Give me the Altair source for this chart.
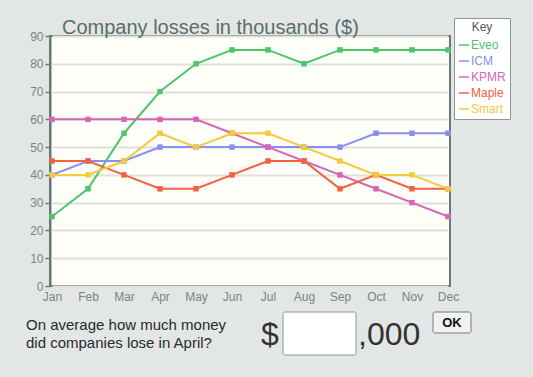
import altair as alt
import pandas as pd

months = ["Jan", "Feb", "Mar", "Apr", "May", "Jun", "Jul", "Aug", "Sep", "Oct", "Nov", "Dec"]
series = ["Eveo", "ICM", "KPMR", "Maple", "Smart"]
eveo = [25, 35, 55, 70, 80, 85, 85, 80, 85, 85, 85, 85]
icm = [40, 45, 45, 50, 50, 50, 50, 50, 50, 55, 55, 55]
kpmr = [60, 60, 60, 60, 60, 55, 50, 45, 40, 35, 30, 25]
maple = [45, 45, 40, 35, 35, 40, 45, 45, 35, 40, 35, 35]
smart = [40, 40, 45, 55, 50, 55, 55, 50, 45, 40, 40, 35]
colors = ["#4ec46c", "#8a8ef0", "#d466b4", "#f26140", "#f4ca3e"]

title_text = ["Company losses in thousands ($)"]
question_line1 = ["On average how much money"]
question_line2 = ["did companies lose in April?"]

rows = []
for name, vals in zip(series, [eveo, icm, kpmr, maple, smart]):
    for m, v in zip(months, vals):
        rows.append({"month": m, "company": name, "loss": v})
df = pd.DataFrame(rows)

FONT = "Liberation Sans"
AXIS_DARK = "#687878"
LABEL_GRAY = "#768686"

x = alt.X("month:N", sort=months,
          scale=alt.Scale(type="point", range=[2, 398], padding=0),
          axis=alt.Axis(title=None, labelAngle=0, ticks=False, domain=False, grid=False,
                        labelColor=LABEL_GRAY, labelFontSize=12, labelFont=FONT, labelPadding=5))
y = alt.Y("loss:Q", scale=alt.Scale(domain=[0, 90], nice=False),
          axis=alt.Axis(title=None, values=list(range(0, 91, 10)), tickSize=5, tickColor=AXIS_DARK,
                        tickWidth=1.5, domainColor=AXIS_DARK, domainWidth=2,
                        labelColor=LABEL_GRAY, labelFontSize=12, labelFont=FONT, labelPadding=2,
                        gridColor="#e0e0dc", gridWidth=2))
color_scale = alt.Scale(domain=series, range=colors)

legend = alt.Legend(
    title="Key", orient="none", legendX=404, legendY=-18,
    fillColor="white", strokeColor="#8a9898", padding=4, cornerRadius=0,
    titleAnchor="middle", titleFontSize=12, titleFontWeight="normal", titleColor="#555555",
    titleFont=FONT, titlePadding=5,
    labelFontSize=12, labelFont=FONT, labelOffset=1,
    labelColor={"expr": "scale('color', datum.value)"},
    symbolType="stroke", symbolStrokeWidth=1.5, symbolSize=100, rowPadding=4,
)

base = alt.Chart(df)
lines = base.mark_line(strokeWidth=2).encode(
    x=x, y=y, color=alt.Color("company:N", scale=color_scale, sort=series, legend=legend))
points = base.mark_point(shape="square", filled=True, size=30, opacity=1).encode(
    x=x, y=y, color=alt.Color("company:N", scale=color_scale, sort=series, legend=None))


def label(texts, xv, yv, size, color, align="left", weight="normal"):
    return alt.Chart(pd.DataFrame({"t": texts})).mark_text(
        align=align, baseline="alphabetic", fontSize=size, font=FONT, color=color, fontWeight=weight
    ).encode(x=alt.value(xv), y=alt.value(yv), text="t:N")


title = label(title_text, 12, -2, 20, "#5a6d6d")
q1 = label(question_line1, -24, 294, 15, "#2a2a2a")
q2 = label(question_line2, -24, 312, 15, "#2a2a2a")
dollar = label(["$"], 211, 309, 32, "#333333")
thousands = label([",000"], 308, 309, 32, "#333333")

box = alt.Chart(pd.DataFrame({"a": [0]})).mark_rect(
    fill="white", stroke="#8c9696", strokeWidth=1, cornerRadius=2
).encode(x=alt.value(233), x2=alt.value(306), y=alt.value(276), y2=alt.value(319))
ok_btn = alt.Chart(pd.DataFrame({"a": [0]})).mark_rect(
    fill="#f2f2f2", stroke="#7a7a7a", strokeWidth=1, cornerRadius=2
).encode(x=alt.value(383), x2=alt.value(421), y=alt.value(276), y2=alt.value(297))
ok_text = alt.Chart(pd.DataFrame({"t": ["OK"]})).mark_text(
    align="center", baseline="middle", fontSize=13, fontWeight="bold", font=FONT, color="#111111"
).encode(x=alt.value(402), y=alt.value(287), text="t:N")

chart = alt.layer(lines, points, title, q1, q2, dollar, thousands, box, ok_btn, ok_text).properties(
    width=400, height=250,
    autosize=alt.AutoSizeParams(type="none"),
    padding={"left": 50, "top": 36, "right": 83, "bottom": 91},
    background="#e2e7e5",
).configure_view(
    fill="#fefef9", stroke=AXIS_DARK, strokeWidth=2
)

chart.save("out.html", embed_options={"renderer": "svg", "actions": False})
